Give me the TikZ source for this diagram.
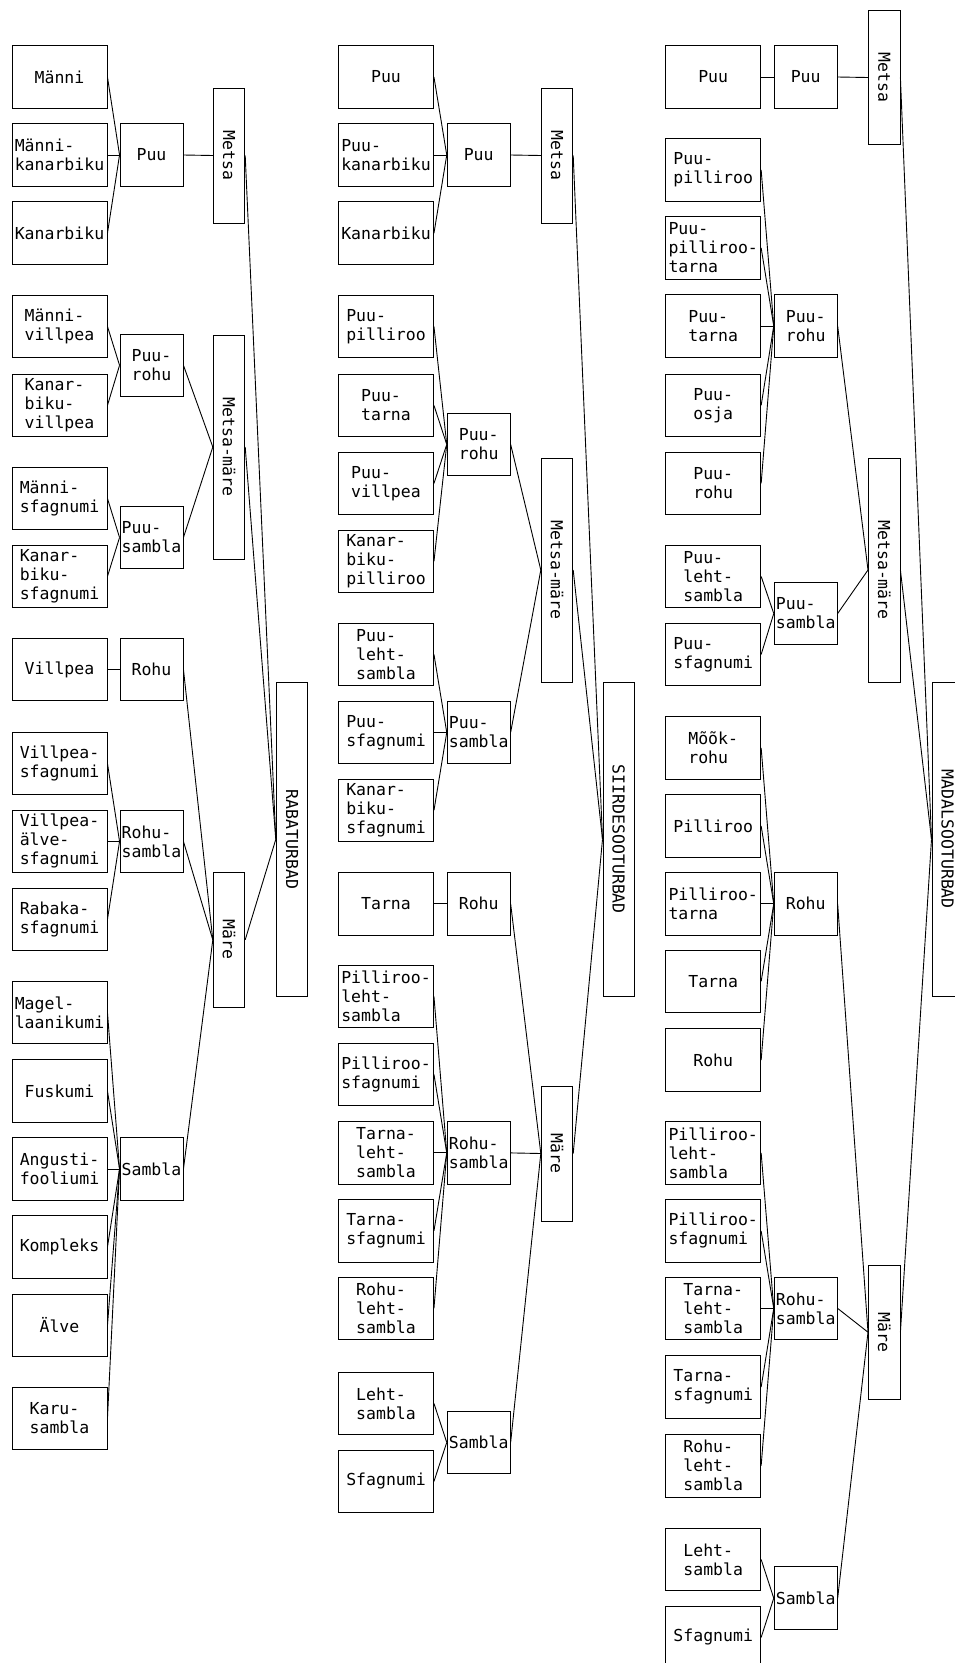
\documentclass[tikz,border=0pt]{standalone}
\usepackage{fontspec}
\usepackage{graphicx}
\newfontfamily\lblfont{DejaVu Sans Mono}
\newcommand\lbl{\lblfont\fontsize{16.5}{19}\selectfont}
\tikzset{
 box/.style={draw, line width=0.9pt, inner sep=0pt, font=\lbl, align=left},
 leaf/.style={box, minimum width=95pt, minimum height=62.7pt},
 mid/.style={box, minimum width=63pt, minimum height=62.7pt},
 lvl/.style={box, minimum width=31.5pt},
 link/.style={line width=0.9pt}
}
\begin{document}
\begin{tikzpicture}[x=1pt,y=-1pt]
\useasboundingbox (0,0) rectangle (954,1663);
% ---------------- column 1 ----------------
\node[leaf] (a1) at (59.5,77) {Männi};
\node[leaf] (a2) at (59.5,155) {Männi-\\kanarbiku};
\node[leaf] (a3) at (59.5,233.2) {Kanarbiku};
\node[leaf] (a4) at (59.5,326.4) {Männi-\\villpea};
\node[leaf] (a5) at (59.5,405.4) {Kanar-\\biku-\\villpea};
\node[leaf] (a6) at (59.5,498.4) {Männi-\\sfagnumi};
\node[leaf] (a7) at (59.5,576.4) {Kanar-\\biku-\\sfagnumi};
\node[leaf] (a8) at (59.5,669.4) {Villpea};
\node[leaf] (a9) at (59.5,763.4) {Villpea-\\sfagnumi};
\node[leaf] (a10) at (59.5,841.4) {Villpea-\\älve-\\sfagnumi};
\node[leaf] (a11) at (59.5,919.4) {Rabaka-\\sfagnumi};
\node[leaf] (a12) at (59.5,1012.4) {Magel-\\laanikumi};
\node[leaf] (a13) at (59.5,1091) {Fuskumi};
\node[leaf] (a14) at (59.5,1169) {Angusti-\\fooliumi};
\node[leaf] (a15) at (59.5,1247) {Kompleks};
\node[leaf] (a16) at (59.5,1325.5) {Älve};
\node[leaf] (a17) at (59.5,1418.4) {Karu-\\sambla};
\node[mid] (am1) at (151.5,155) {Puu};
\node[mid] (am2) at (151.5,365.3) {Puu-\\rohu};
\node[mid] (am3) at (151.5,537.5) {Puu-\\sambla};
\node[mid] (am4) at (151.5,669.4) {Rohu};
\node[mid] (am5) at (151.5,841.4) {Rohu-\\sambla};
\node[mid] (am6) at (151.5,1169) {Sambla};
\node[lvl, minimum height=135pt] (al1) at (229,155.5) {\rotatebox{-90}{Metsa}};
\node[lvl, minimum height=224pt] (al2) at (229,447) {\rotatebox{-90}{Metsa-märe}};
\node[lvl, minimum height=134.5pt] (al3) at (229,939.8) {\rotatebox{-90}{Märe}};
\node[lvl, minimum height=313.5pt] (ar) at (292,839.3) {\rotatebox{-90}{RABATURBAD}};
\foreach \i in {1,2,3} \draw[link] (a\i.east) -- (am1.west);
\foreach \i in {4,5} \draw[link] (a\i.east) -- (am2.west);
\foreach \i in {6,7} \draw[link] (a\i.east) -- (am3.west);
\draw[link] (a8.east) -- (am4.west);
\foreach \i in {9,10,11} \draw[link] (a\i.east) -- (am5.west);
\foreach \i in {12,...,17} \draw[link] (a\i.east) -- (am6.west);
\draw[link] (am1.east) -- (al1.west);
\foreach \i in {2,3} \draw[link] (am\i.east) -- (al2.west);
\foreach \i in {4,5,6} \draw[link] (am\i.east) -- (al3.west);
\foreach \i in {1,2,3} \draw[link] (al\i.east) -- (ar.west);
% ---------------- column 2 ----------------
\node[leaf] (b1) at (386,77) {Puu};
\node[leaf] (b2) at (386,155) {Puu-\\kanarbiku};
\node[leaf] (b3) at (386,233.2) {Kanarbiku};
\node[leaf] (b4) at (386,326.4) {Puu-\\pilliroo};
\node[leaf] (b5) at (386,405.4) {Puu-\\tarna};
\node[leaf] (b6) at (386,483.4) {Puu-\\villpea};
\node[leaf] (b7) at (386,561.4) {Kanar-\\biku-\\pilliroo};
\node[leaf] (b8) at (386,654.4) {Puu-\\leht-\\sambla};
\node[leaf] (b9) at (386,732.4) {Puu-\\sfagnumi};
\node[leaf] (b10) at (386,810.4) {Kanar-\\biku-\\sfagnumi};
\node[leaf] (b11) at (386,903.8) {Tarna};
\node[leaf] (b12) at (386,996.4) {Pilliroo-\\leht-\\sambla};
\node[leaf] (b13) at (386,1074.4) {Pilliroo-\\sfagnumi};
\node[leaf] (b14) at (386,1152.9) {Tarna-\\leht-\\sambla};
\node[leaf] (b15) at (386,1230.9) {Tarna-\\sfagnumi};
\node[leaf] (b16) at (386,1308.4) {Rohu-\\leht-\\sambla};
\node[leaf] (b17) at (386,1403.4) {Leht-\\sambla};
\node[leaf] (b18) at (386,1481.4) {Sfagnumi};
\node[mid] (bm1) at (478.7,155) {Puu};
\node[mid] (bm2) at (478.7,444.4) {Puu-\\rohu};
\node[mid] (bm3) at (478.7,732.4) {Puu-\\sambla};
\node[mid] (bm4) at (478.7,903.8) {Rohu};
\node[mid] (bm5) at (478.7,1152.9) {Rohu-\\sambla};
\node[mid] (bm6) at (478.7,1442.4) {Sambla};
\node[lvl, minimum height=135pt] (bl1) at (557,155.5) {\rotatebox{-90}{Metsa}};
\node[lvl, minimum height=224pt] (bl2) at (557,570) {\rotatebox{-90}{Metsa-märe}};
\node[lvl, minimum height=135pt] (bl3) at (557,1153.5) {\rotatebox{-90}{Märe}};
\node[lvl, minimum height=313.5pt] (br) at (618.7,839.3) {\rotatebox{-90}{SIIRDESOOTURBAD}};
\foreach \i in {1,2,3} \draw[link] (b\i.east) -- (bm1.west);
\foreach \i in {4,5,6,7} \draw[link] (b\i.east) -- (bm2.west);
\foreach \i in {8,9,10} \draw[link] (b\i.east) -- (bm3.west);
\draw[link] (b11.east) -- (bm4.west);
\foreach \i in {12,...,16} \draw[link] (b\i.east) -- (bm5.west);
\foreach \i in {17,18} \draw[link] (b\i.east) -- (bm6.west);
\draw[link] (bm1.east) -- (bl1.west);
\foreach \i in {2,3} \draw[link] (bm\i.east) -- (bl2.west);
\foreach \i in {4,5,6} \draw[link] (bm\i.east) -- (bl3.west);
\foreach \i in {1,2,3} \draw[link] (bl\i.east) -- (br.west);
% ---------------- column 3 ----------------
\node[leaf] (c1) at (713.2,77) {Puu};
\node[leaf] (c2) at (713.2,170) {Puu-\\pilliroo};
\node[leaf] (c3) at (713.2,247.8) {Puu-\\pilliroo-\\tarna};
\node[leaf] (c4) at (713.2,326) {Puu-\\tarna};
\node[leaf] (c5) at (713.2,405.4) {Puu-\\osja};
\node[leaf] (c6) at (713.2,483.4) {Puu-\\rohu};
\node[leaf] (c7) at (713.2,576.4) {Puu-\\leht-\\sambla};
\node[leaf] (c8) at (713.2,654.4) {Puu-\\sfagnumi};
\node[leaf] (c9) at (713.2,747.8) {Mõõk-\\rohu};
\node[leaf] (c10) at (713.2,826) {Pilliroo};
\node[leaf] (c11) at (713.2,903.8) {Pilliroo-\\tarna};
\node[leaf] (c12) at (713.2,981.4) {Tarna};
\node[leaf] (c13) at (713.2,1060) {Rohu};
\node[leaf] (c14) at (713.2,1152.9) {Pilliroo-\\leht-\\sambla};
\node[leaf] (c15) at (713.2,1230.9) {Pilliroo-\\sfagnumi};
\node[leaf] (c16) at (713.2,1308.4) {Tarna-\\leht-\\sambla};
\node[leaf] (c17) at (713.2,1387) {Tarna-\\sfagnumi};
\node[leaf] (c18) at (713.2,1465.7) {Rohu-\\leht-\\sambla};
\node[leaf] (c19) at (713.2,1559.4) {Leht-\\sambla};
\node[leaf] (c20) at (713.2,1637.4) {Sfagnumi};
\node[mid] (cm1) at (805.7,77) {Puu};
\node[mid] (cm2) at (805.7,326) {Puu-\\rohu};
\node[mid] (cm3) at (805.7,613.5) {Puu-\\sambla};
\node[mid] (cm4) at (805.7,903.8) {Rohu};
\node[mid] (cm5) at (805.7,1308.4) {Rohu-\\sambla};
\node[mid] (cm6) at (805.7,1598.2) {Sambla};
\node[lvl, minimum height=134.2pt] (cl1) at (884.2,77.5) {\rotatebox{-90}{Metsa}};
\node[lvl, minimum height=224pt] (cl2) at (884.2,570) {\rotatebox{-90}{Metsa-märe}};
\node[lvl, minimum height=134.5pt] (cl3) at (884.2,1332.2) {\rotatebox{-90}{Märe}};
\node[lvl, minimum height=313.5pt] (cr) at (947.7,839.3) {\rotatebox{-90}{MADALSOOTURBAD}};
\draw[link] (c1.east) -- (cm1.west);
\foreach \i in {2,...,6} \draw[link] (c\i.east) -- (cm2.west);
\foreach \i in {7,8} \draw[link] (c\i.east) -- (cm3.west);
\foreach \i in {9,...,13} \draw[link] (c\i.east) -- (cm4.west);
\foreach \i in {14,...,18} \draw[link] (c\i.east) -- (cm5.west);
\foreach \i in {19,20} \draw[link] (c\i.east) -- (cm6.west);
\draw[link] (cm1.east) -- (cl1.west);
\foreach \i in {2,3} \draw[link] (cm\i.east) -- (cl2.west);
\foreach \i in {4,5,6} \draw[link] (cm\i.east) -- (cl3.west);
\foreach \i in {1,2,3} \draw[link] (cl\i.east) -- (cr.west);
\end{tikzpicture}
\end{document}
